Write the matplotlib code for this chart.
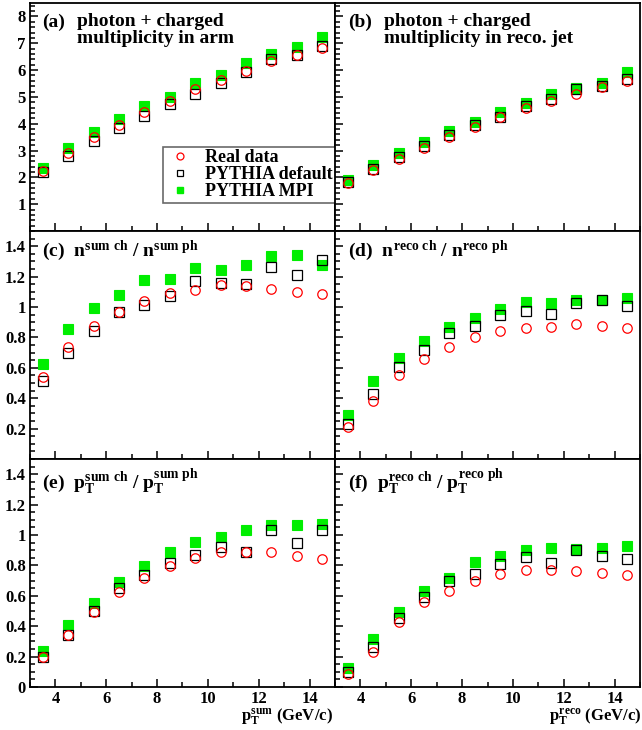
import matplotlib
matplotlib.use("Agg")
import matplotlib.pyplot as plt
from matplotlib.ticker import FixedLocator, MultipleLocator
from matplotlib.lines import Line2D

plt.rcParams['font.family'] = ['Liberation Serif', 'DejaVu Serif']
plt.rcParams['font.weight'] = 'bold'
plt.rcParams['mathtext.fontset'] = 'custom'
plt.rcParams['mathtext.rm'] = 'Liberation Serif:bold'
plt.rcParams['mathtext.it'] = 'Liberation Serif:bold'
plt.rcParams['mathtext.bf'] = 'Liberation Serif:bold'

pt = [3.5, 4.5, 5.5, 6.5, 7.5, 8.5, 9.5, 10.5, 11.5, 12.5, 13.5, 14.5]

# (a) multiplicity in arm
a_data = [2.23, 2.92, 3.49, 3.95, 4.43, 4.86, 5.29, 5.63, 5.97, 6.34, 6.57, 6.82]
a_def = [2.21, 2.81, 3.37, 3.83, 4.30, 4.73, 5.10, 5.51, 5.94, 6.42, 6.57, 6.90]
a_mpi = [2.36, 3.08, 3.68, 4.17, 4.67, 5.01, 5.51, 5.82, 6.26, 6.59, 6.86, 7.22]

# (b) multiplicity in reco. jet
b_data = [1.80, 2.27, 2.68, 3.10, 3.52, 3.89, 4.24, 4.58, 4.86, 5.11, 5.36, 5.60]
b_def = [1.83, 2.31, 2.75, 3.18, 3.58, 3.95, 4.26, 4.66, 4.92, 5.30, 5.42, 5.67]
b_mpi = [1.90, 2.46, 2.90, 3.33, 3.73, 4.08, 4.43, 4.76, 5.11, 5.32, 5.51, 5.91]

# (c) n sum ch / n sum ph
c_data = [0.54, 0.74, 0.875, 0.97, 1.04, 1.09, 1.115, 1.145, 1.135, 1.12, 1.10, 1.085]
c_def = [0.51, 0.70, 0.84, 0.97, 1.015, 1.07, 1.17, 1.16, 1.15, 1.265, 1.21, 1.31]
c_mpi = [0.625, 0.855, 0.995, 1.08, 1.175, 1.185, 1.255, 1.245, 1.275, 1.335, 1.34, 1.275]

# (d) n reco ch / n reco ph
d_data = [0.21, 0.38, 0.55, 0.66, 0.74, 0.80, 0.845, 0.865, 0.87, 0.885, 0.875, 0.865]
d_def = [0.23, 0.43, 0.605, 0.715, 0.83, 0.875, 0.95, 0.975, 0.955, 1.025, 1.045, 1.005]
d_mpi = [0.29, 0.515, 0.665, 0.775, 0.87, 0.93, 0.99, 1.03, 1.025, 1.045, 1.045, 1.06]

# (e) pT sum ch / pT sum ph
e_data = [0.195, 0.345, 0.495, 0.625, 0.72, 0.795, 0.85, 0.885, 0.89, 0.885, 0.865, 0.845]
e_def = [0.195, 0.345, 0.50, 0.65, 0.74, 0.815, 0.87, 0.92, 0.89, 1.035, 0.95, 1.03]
e_mpi = [0.24, 0.41, 0.555, 0.69, 0.795, 0.89, 0.955, 0.985, 1.03, 1.065, 1.065, 1.07]

# (f) pT reco ch / pT reco ph
f_data = [0.085, 0.23, 0.425, 0.56, 0.63, 0.70, 0.745, 0.77, 0.77, 0.765, 0.75, 0.735]
f_def = [0.10, 0.265, 0.455, 0.59, 0.70, 0.745, 0.81, 0.855, 0.815, 0.90, 0.865, 0.845]
f_mpi = [0.125, 0.315, 0.495, 0.63, 0.715, 0.825, 0.86, 0.90, 0.915, 0.91, 0.915, 0.925]

labels = ["Real data", "PYTHIA default", "PYTHIA MPI"]
x_ticks = [4, 6, 8, 10, 12, 14]
top_yticks = [1, 2, 3, 4, 5, 6, 7, 8]
mid_yticks = [0.2, 0.4, 0.6, 0.8, 1.0, 1.2, 1.4]
bot_yticks = [0, 0.2, 0.4, 0.6, 0.8, 1.0, 1.2, 1.4]

def fmt(v):
    return '%g' % v

W, H = 642, 730
fig = plt.figure(figsize=(W / 100, H / 100), dpi=100)

cols = [(30, 335), (335, 640)]
rows = [(3, 231), (231, 459), (459, 687)]

panels = [
    [(a_data, a_def, a_mpi), (b_data, b_def, b_mpi)],
    [(c_data, c_def, c_mpi), (d_data, d_def, d_mpi)],
    [(e_data, e_def, e_mpi), (f_data, f_def, f_mpi)],
]
ylims = [(0, 8.5), (0, 1.5), (0, 1.5)]
yticks = [top_yticks, mid_yticks, bot_yticks]
yminor = [0.2, 0.05, 0.05]

green = '#00ee00'
axes = {}
for r, (yt, yb) in enumerate(rows):
    for c, (xl, xr) in enumerate(cols):
        ax = fig.add_axes([xl / W, 1 - yb / H, (xr - xl) / W, (yb - yt) / H])
        axes[(r, c)] = ax
        d, df, mp = panels[r][c]
        ax.plot(pt, mp, ls='none', marker='s', ms=6.5, mfc=green, mec=green, mew=0.8, zorder=3)
        ax.plot(pt, df, ls='none', marker='s', ms=6.5, mfc='none', mec='black', mew=0.9, zorder=4)
        ax.plot(pt, d, ls='none', marker='o', ms=6.8, mfc='none', mec='red', mew=0.9, zorder=5)
        ax.set_xlim(3, 15)
        ax.set_ylim(*ylims[r])
        ax.xaxis.set_major_locator(FixedLocator(x_ticks))
        ax.xaxis.set_minor_locator(MultipleLocator(1))
        ax.yaxis.set_major_locator(FixedLocator(yticks[r]))
        ax.yaxis.set_minor_locator(MultipleLocator(yminor[r]))
        ax.tick_params(which='both', direction='in', top=False, right=False, width=1.1)
        ax.tick_params(which='major', length=6)
        ax.tick_params(which='minor', length=3.5)
        for sp in ax.spines.values():
            sp.set_linewidth(1.3)
        if c == 0:
            ax.set_yticklabels([fmt(v) for v in yticks[r]], fontsize=12, fontweight='bold')
        else:
            ax.set_yticklabels([])
        if r == 2:
            ax.set_xticklabels([str(v) for v in x_ticks], fontsize=12, fontweight='bold')
        else:
            ax.set_xticklabels([])
        ax.tick_params(axis='both', pad=3)

fs = 14
tkw = dict(fontsize=fs, fontweight='bold', va='top', ha='left')
axes[(0, 0)].text(0.039, 0.955, "(a)", transform=axes[(0, 0)].transAxes, **tkw)
axes[(0, 0)].text(0.155, 0.955, "photon + charged\nmultiplicity in arm", transform=axes[(0, 0)].transAxes,
                  linespacing=0.95, **tkw)
axes[(0, 1)].text(0.043, 0.955, "(b)", transform=axes[(0, 1)].transAxes, **tkw)
axes[(0, 1)].text(0.162, 0.955, "photon + charged\nmultiplicity in reco. jet", transform=axes[(0, 1)].transAxes,
                  linespacing=0.95, **tkw)
axes[(1, 0)].text(0.039, 0.965, r"(c)  $n^{sum\ ch}$ / $n^{sum\ ph}$", transform=axes[(1, 0)].transAxes, **tkw)
axes[(1, 1)].text(0.043, 0.965, r"(d)  $n^{reco\ ch}$ / $n^{reco\ ph}$", transform=axes[(1, 1)].transAxes, **tkw)
axes[(2, 0)].text(0.039, 0.965, r"(e)  $p_T^{sum\ ch}$ / $p_T^{sum\ ph}$", transform=axes[(2, 0)].transAxes, **tkw)
axes[(2, 1)].text(0.043, 0.965, r"(f)  $p_T^{reco\ ch}$ / $p_T^{reco\ ph}$", transform=axes[(2, 1)].transAxes, **tkw)

fig.text(333 / W, 1 - 720 / H, r"$p_T^{sum}$ (GeV/c)", ha='right', va='baseline', fontsize=12, fontweight='bold')
fig.text(641 / W, 1 - 720 / H, r"$p_T^{reco}$ (GeV/c)", ha='right', va='baseline', fontsize=12, fontweight='bold')

handles = [
    Line2D([], [], ls='none', marker='o', ms=5, mfc='none', mec='red', mew=0.9),
    Line2D([], [], ls='none', marker='s', ms=5, mfc='none', mec='black', mew=0.9),
    Line2D([], [], ls='none', marker='s', ms=5, mfc=green, mec=green),
]
axa = axes[(0, 0)]
leg = axa.legend(handles, labels, loc='lower left', bbox_to_anchor=(0.436, 0.123),
                 frameon=True, fancybox=False, prop={'weight': 'bold', 'size': 13},
                 borderpad=0.15, labelspacing=0.0, handletextpad=0.6, handlelength=1.6,
                 borderaxespad=0)
leg.get_frame().set_edgecolor('#444444')
leg.get_frame().set_linewidth(1.2)
leg.set_zorder(10)

fig.savefig("out.png", dpi=100)
